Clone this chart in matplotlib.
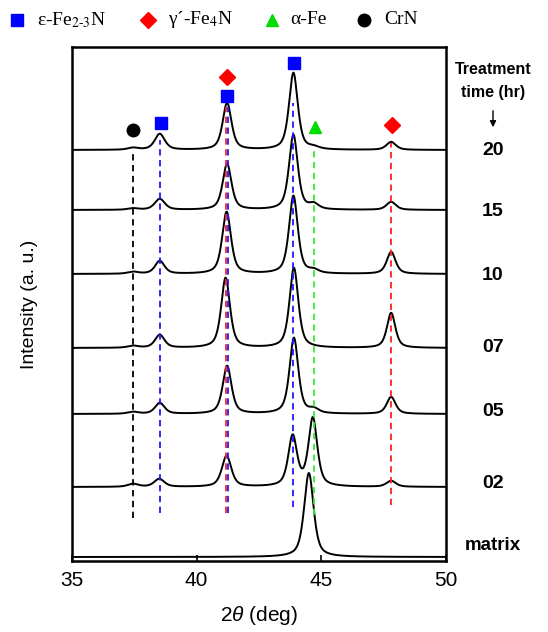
import numpy as np
import matplotlib.pyplot as plt
from matplotlib.lines import Line2D

plt.rcParams['font.family'] = ['Liberation Sans', 'DejaVu Sans']
plt.rcParams['mathtext.fontset'] = 'custom'
plt.rcParams['mathtext.rm'] = 'Liberation Sans'
plt.rcParams['mathtext.it'] = 'Liberation Sans:italic'

# Samples, stacked from top to bottom, with their vertical offsets (a. u.)
samples = ['20', '15', '10', '07', '05', '02', 'matrix']
offsets = [411, 351, 287, 213, 147, 74, 4]

# Peaks: (2theta, height, fwhm)
peaks = {
    '20': [(37.45, 2, 0.5), (38.52, 16, 0.48), (41.22, 47, 0.42), (43.88, 77, 0.42),
           (44.70, 2, 0.5), (47.80, 8, 0.45)],
    '15': [(37.45, 1.5, 0.5), (38.52, 11, 0.48), (41.22, 46, 0.42), (43.88, 75, 0.42),
           (44.70, 5, 0.45), (47.80, 8, 0.45)],
    '10': [(37.45, 2, 0.5), (38.52, 13, 0.45), (41.20, 62, 0.42), (43.88, 78, 0.42),
           (44.70, 3, 0.45), (47.80, 22, 0.42)],
    '07': [(37.45, 2, 0.5), (38.52, 13, 0.45), (41.16, 70, 0.42), (43.90, 80, 0.42),
           (47.80, 35, 0.4)],
    '05': [(37.45, 2, 0.5), (38.52, 11, 0.45), (41.22, 48, 0.42), (43.90, 76, 0.42),
           (44.70, 4, 0.45), (47.80, 17, 0.42)],
    '02': [(37.45, 3, 0.5), (38.50, 8, 0.48), (41.20, 31, 0.45), (43.85, 50, 0.42),
           (44.66, 68, 0.42), (47.80, 6, 0.45)],
    'matrix': [(44.50, 84, 0.45)],
}

# Reference lines: (2theta, top, bottom, colour)
ref_lines = [(37.45, 411, 43, 'black'), (38.52, 421, 48, '#1a1aff'),
             (41.18, 454, 48, '#ff2020'), (41.26, 454, 48, '#1a1aff'),
             (43.85, 458, 54, '#1a1aff'), (44.70, 411, 46, '#33ee33'),
             (47.80, 418, 56, '#ff2020')]

# Phase markers above the peaks: (2theta, y, marker, colour)
phase_marks = [(37.45, 431, 'o', 'black'), (38.55, 438, 's', '#0000ff'),
               (41.22, 484, 'D', '#ff0000'), (41.22, 465, 's', '#0000ff'),
               (43.90, 498, 's', '#0000ff'), (44.76, 434, '^', '#00dd00'),
               (47.84, 436, 'D', '#ff0000')]

legend_labels = ['ε-Fe$_{2\\text{-}3}$N', 'γ´-Fe$_4$N', 'α-Fe', 'CrN']


def pseudo_voigt(x, x0, h, fwhm, eta=0.6):
    g = np.exp(-4 * np.log(2) * ((x - x0) / fwhm) ** 2)
    l = 1 / (1 + 4 * ((x - x0) / fwhm) ** 2)
    return h * (eta * l + (1 - eta) * g)


two_theta = np.linspace(35, 50, 1501)

fig = plt.figure(figsize=(5.48, 6.32), dpi=100)
ax = fig.add_axes([72 / 548, 71 / 632, 374 / 548, 514 / 632])

for name, off in zip(samples, offsets):
    y = np.full_like(two_theta, off, dtype=float)
    for x0, h, w in peaks[name]:
        y += pseudo_voigt(two_theta, x0, h, w)
    ax.plot(two_theta, y, color='black', lw=1.4, zorder=2)

for x0, top, bot, c in ref_lines:
    ax.plot([x0, x0], [bot, top], ls=(0, (3.5, 2.5)), lw=1.3, color=c, zorder=3)

for x0, y0, m, c in phase_marks:
    ms = 8 if m in 'sD' else 9
    ax.plot(x0, y0, marker=m, ms=ms, color=c, ls='none', zorder=4)

ax.set_xlim(35, 50)
ax.set_ylim(0, 514)
ax.set_xticks([35, 40, 45, 50])
ax.set_yticks([])
ax.tick_params(axis='x', direction='in', length=4, width=1.2, labelsize=15, pad=7)
for sp in ax.spines.values():
    sp.set_linewidth(1.8)
ax.set_xlabel(r'2$\theta$ (deg)', fontsize=15)
ax.xaxis.set_label_coords(0.5, -0.083)
ax.set_ylabel('Intensity (a. u.)', fontsize=14)
ax.yaxis.set_label_coords(-0.091, 0.5)

# sample labels on the right
label_y = [151, 211, 275, 347, 412, 483, 545]
for name, py in zip(samples, label_y):
    fig.text(493 / 548, 1 - py / 632, name, ha='center', va='center',
             fontsize=14 if name != 'matrix' else 13.5, fontweight='bold')
fig.text(493 / 548, 1 - 70 / 632, 'Treatment', ha='center', va='center',
         fontsize=11.5, fontweight='bold')
fig.text(493 / 548, 1 - 92 / 632, 'time (hr)', ha='center', va='center',
         fontsize=11.5, fontweight='bold')
ax.annotate('', xy=(493 / 548, 1 - 130 / 632), xytext=(493 / 548, 1 - 108 / 632),
            xycoords='figure fraction',
            arrowprops=dict(arrowstyle='-|>', color='black', lw=1, mutation_scale=9))

# legend row at the top
leg_marks = [('s', '#0000ff', 17), ('D', '#ff0000', 148), ('^', '#00dd00', 272), ('o', 'black', 364)]
leg_text_x = [37, 168, 290, 384]
for (m, c, px), tx, lab in zip(leg_marks, leg_text_x, legend_labels):
    fig.add_artist(Line2D([px / 548], [1 - 20 / 632], marker=m, color=c,
                          ms=8.5 if m == 's' else 8 if m == 'D' else 9, ls='none'))
    fig.text(tx / 548, 1 - 20 / 632, lab, ha='left', va='center', fontsize=14,
             family=['Liberation Serif', 'DejaVu Serif'], math_fontfamily='stix')

fig.savefig('out.png', dpi=100)
